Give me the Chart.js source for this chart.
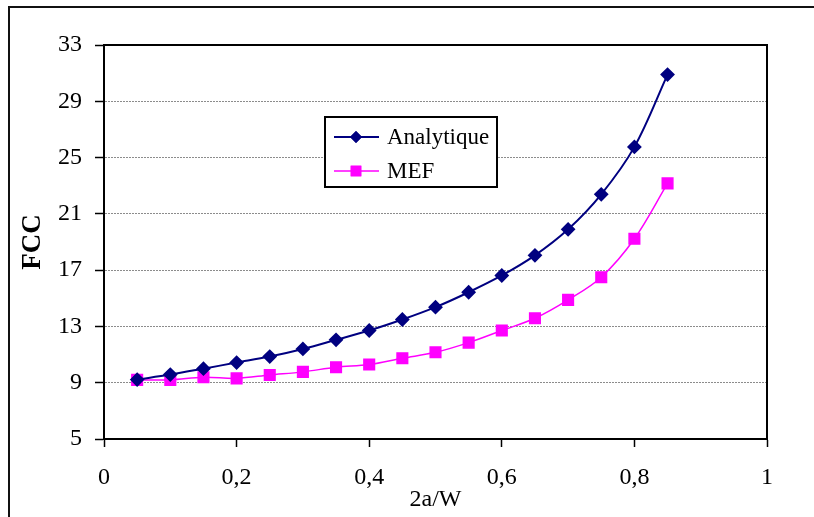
<!DOCTYPE html>
<html>
<head>
<meta charset="utf-8">
<script src="https://cdn.jsdelivr.net/npm/chart.js@4"></script>
<style>
  html, body { margin: 0; padding: 0; background: #fff; overflow: hidden; }
  #wrap { position: relative; width: 814px; height: 517px; overflow: hidden; }
  #frame { position: absolute; left: 8px; top: 6px; width: 900px; height: 600px;
           border-left: 2.5px solid #111; border-top: 2.5px solid #111; }
  canvas { display: block; position: absolute; left: 0; top: 0; }
</style>
</head>
<body>
<div id="wrap">
  <div id="frame"></div>
  <canvas id="fccChart" width="814" height="517"></canvas>
</div>
<script>
// values
var ratioValues = [0.05, 0.1, 0.15, 0.2, 0.25, 0.3, 0.35, 0.4, 0.45, 0.5, 0.55, 0.6, 0.65, 0.7, 0.75, 0.8, 0.85];
var analytiqueValues = [9.22, 9.58, 10.0, 10.43, 10.86, 11.4, 12.05, 12.71, 13.49, 14.37, 15.43, 16.62, 18.05, 19.9, 22.39, 25.76, 30.9];
var mefValues = [9.2, 9.2, 9.39, 9.31, 9.55, 9.77, 10.1, 10.29, 10.74, 11.16, 11.85, 12.71, 13.58, 14.89, 16.5, 19.23, 23.17];
var seriesNames = ['Analytique', 'MEF'];
var yTicks = [5, 9, 13, 17, 21, 25, 29, 33];
var xTicks = [0, 0.2, 0.4, 0.6, 0.8, 1];

var serif = "'Liberation Serif', 'Times New Roman', serif";

function toPoints(values) {
    let pts = [];
    for (let i = 0; i < values.length; i++) {
        pts.push({ x: ratioValues[i], y: values[i] });
    }
    return pts;
}

const fccData = {
    datasets: [{
        label: seriesNames[0],
        data: toPoints(analytiqueValues),
        borderColor: '#000080',
        backgroundColor: '#000080',
        borderWidth: 2,
        pointStyle: 'rectRot',
        pointRadius: 6,
        tension: 0.35
    }, {
        label: seriesNames[1],
        data: toPoints(mefValues),
        borderColor: '#ff00ff',
        backgroundColor: '#ff00ff',
        borderWidth: 1.5,
        pointStyle: 'rect',
        pointRadius: 7.5,
        tension: 0.35
    }]
};

// plot box and the legend box inside the plot
const framePlugin = {
    id: 'framePlugin',
    afterDraw(chart) {
        const ctx = chart.ctx;
        const a = chart.chartArea;
        ctx.save();
        ctx.strokeStyle = '#000';
        ctx.lineWidth = 2;
        ctx.strokeRect(a.left, a.top, a.right - a.left, a.bottom - a.top);

        // legend
        ctx.fillStyle = '#fff';
        ctx.fillRect(325, 117, 172, 70);
        ctx.strokeRect(325, 117, 172, 70);
        const rows = [137, 171];
        chart.data.datasets.forEach(function (ds, i) {
            const y = rows[i];
            ctx.strokeStyle = ds.borderColor;
            ctx.lineWidth = ds.borderWidth;
            ctx.beginPath();
            ctx.moveTo(334, y);
            ctx.lineTo(379, y);
            ctx.stroke();
            ctx.fillStyle = ds.backgroundColor;
            Chart.helpers.drawPoint(ctx, { pointStyle: ds.pointStyle, radius: ds.pointRadius, borderWidth: 0 }, 356, y);
            ctx.fill();
            ctx.fillStyle = '#000';
            ctx.font = '23px ' + serif;
            ctx.textBaseline = 'middle';
            ctx.textAlign = 'left';
            ctx.fillText(ds.label, 387, y + 1);
        });
        ctx.restore();
    }
};

new Chart(document.getElementById('fccChart'), {
    type: 'line',
    data: fccData,
    plugins: [framePlugin],
    options: {
        responsive: false,
        animation: false,
        layout: { padding: { left: 0, top: 45, right: 47, bottom: 0 } },
        plugins: {
            legend: { display: false },
            tooltip: { enabled: false }
        },
        scales: {
            x: {
                type: 'linear',
                min: xTicks[0],
                max: xTicks[xTicks.length - 1],
                afterBuildTicks: function (s) { s.ticks = xTicks.map(v => ({ value: v })); },
                afterFit: function (s) { s.height = 78; },
                ticks: {
                    color: '#000',
                    font: { family: serif, size: 24 },
                    padding: 16,
                    callback: function (v) { return String(Math.round(v * 10) / 10).replace('.', ','); }
                },
                grid: { drawOnChartArea: false, tickLength: 8, tickColor: '#000', tickWidth: 1.5 },
                border: { color: '#000', width: 2 },
                title: {
                    display: true,
                    text: '2a/W',
                    color: '#000',
                    font: { family: serif, size: 24 },
                    padding: { top: 0, bottom: 3 }
                }
            },
            y: {
                min: yTicks[0],
                max: yTicks[yTicks.length - 1],
                afterBuildTicks: function (s) { s.ticks = yTicks.map(v => ({ value: v })); },
                afterFit: function (s) { s.width = 104; },
                ticks: {
                    color: '#000',
                    font: { family: serif, size: 24 },
                    padding: 13
                },
                grid: { color: '#8c8c8c', lineWidth: 1, tickLength: 9, tickColor: '#000', tickWidth: 1.5, tickBorderDash: [] },
                border: { color: '#000', width: 2, dash: [2, 1] },
                title: {
                    display: true,
                    text: 'FCC',
                    color: '#000',
                    font: { family: serif, size: 27, weight: 'bold' },
                    padding: { top: 17, bottom: 0 }
                }
            }
        }
    }
});
</script>
</body>
</html>
